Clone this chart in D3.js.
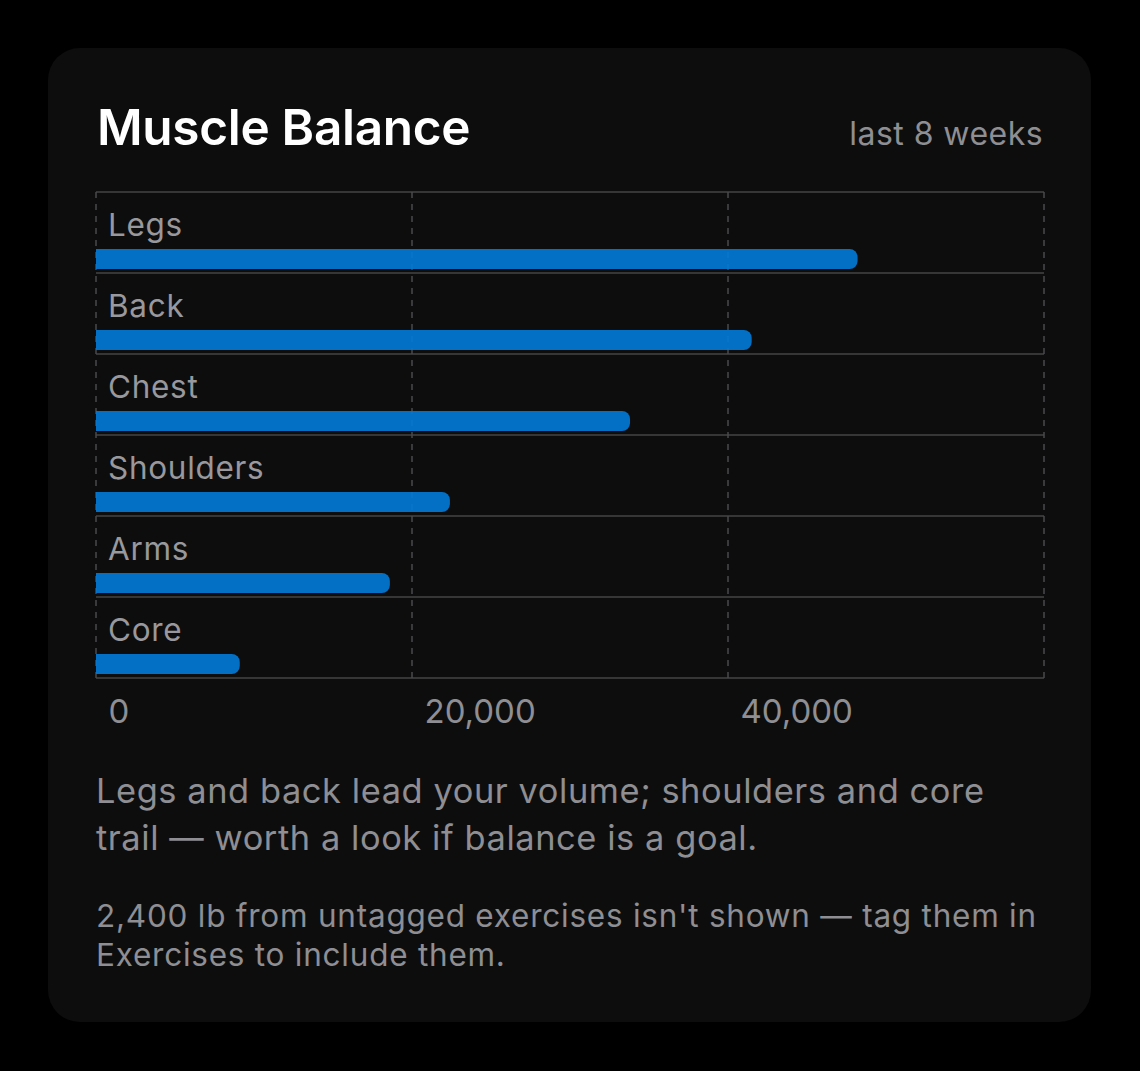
<!DOCTYPE html>
<html>
<head>
<meta charset="utf-8">
<script src="https://cdn.jsdelivr.net/npm/d3@7"></script>
<style>
  html, body { margin: 0; padding: 0; background: #000; }
  svg { display: block; }
  text { font-family: Inter, "Noto Sans", sans-serif; }
</style>
</head>
<body>
<svg id="chart" width="1140" height="1071"></svg>
<script>
// ---- data ----
const categories = ["Legs", "Back", "Chest", "Shoulders", "Arms", "Core"];
const volumes = [48200, 41500, 33800, 22400, 18600, 9100];
const tickValues = [0, 20000, 40000];
const gridValues = [0, 20000, 40000, 60000];
const title = "Muscle Balance";
const subtitle = "last 8 weeks";
const summaryLines = [
  "Legs and back lead your volume; shoulders and core",
  "trail \u2014 worth a look if balance is a goal."
];
const noteLines = [
  "2,400 lb from untagged exercises isn't shown \u2014 tag them in",
  "Exercises to include them."
];

const data = categories.map((c, i) => ({ category: c, value: volumes[i] }));

const svg = d3.select("#chart");
const W = 1140, H = 1071;

svg.append("rect").attr("width", W).attr("height", H).attr("fill", "#000");
svg.append("rect")
  .attr("x", 48).attr("y", 48).attr("width", 1043).attr("height", 974)
  .attr("rx", 32).attr("ry", 32).attr("fill", "#0d0d0d");

svg.append("text").text(title)
  .attr("x", 97).attr("y", 145)
  .attr("fill", "#ffffff").attr("font-size", 49.5).attr("font-weight", 600)
  .attr("letter-spacing", -0.3);

svg.append("text").text(subtitle)
  .attr("x", 1043).attr("y", 145).attr("text-anchor", "end")
  .attr("fill", "#8e8e93").attr("font-size", 32).attr("letter-spacing", 0.45);

const plot = { left: 96, right: 1044, top: 192, bottom: 678 };
const x = d3.scaleLinear().domain([0, 60000]).range([plot.left, plot.right]);
const y = d3.scaleBand().domain(categories).range([plot.top, plot.bottom]).padding(0);

const g = svg.append("g");

// horizontal row separators (solid)
const rowEdges = [plot.top].concat(categories.map(c => y(c) + y.bandwidth()));
g.selectAll("line.row").data(rowEdges).join("line")
  .attr("class", "row")
  .attr("x1", plot.left).attr("x2", plot.right)
  .attr("y1", d => d).attr("y2", d => d)
  .attr("stroke", "#444446").attr("stroke-width", 1.5);

// vertical dashed grid
g.selectAll("line.grid").data(gridValues).join("line")
  .attr("class", "grid")
  .attr("x1", d => x(d)).attr("x2", d => x(d))
  .attr("y1", plot.top).attr("y2", plot.bottom)
  .attr("stroke", "#4a4a4c").attr("stroke-width", 1.5)
  .attr("stroke-dasharray", "6 6");

// category labels
g.selectAll("text.cat").data(data).join("text")
  .attr("class", "cat")
  .attr("x", plot.left + 12)
  .attr("y", d => y(d.category) + 43.5)
  .attr("fill", "#98989d").attr("font-size", 31.5).attr("letter-spacing", 0.7)
  .text(d => d.category);

// bars with rounded right end
const barH = 20, r = 8;
function barPath(d) {
  const x0 = x(0), x1 = x(d.value);
  const y0 = y(d.category) + y.bandwidth() - 24, y1 = y0 + barH;
  return `M${x0},${y0}H${x1 - r}A${r},${r} 0 0 1 ${x1},${y0 + r}V${y1 - r}A${r},${r} 0 0 1 ${x1 - r},${y1}H${x0}Z`;
}
g.selectAll("path.bar").data(data).join("path")
  .attr("class", "bar")
  .attr("d", barPath)
  .attr("fill", "#027bd9").attr("fill-opacity", 0.9);

// x axis
const axis = d3.axisBottom(x).tickValues(tickValues).tickFormat(d3.format(",")).tickSize(0);
const ax = svg.append("g").attr("transform", `translate(0,${plot.bottom})`).call(axis);
ax.select(".domain").remove();
ax.selectAll("text")
  .attr("text-anchor", "start")
  .attr("x", 12).attr("dy", null).attr("y", 44.5)
  .attr("fill", "#8e8e93")
  .attr("font-size", 33)
  .attr("font-family", "Inter, 'Noto Sans', sans-serif");

// summary text
svg.append("g").selectAll("text").data(summaryLines).join("text")
  .attr("x", 96).attr("y", (d, i) => 803 + i * 47)
  .attr("fill", "#8e8e93").attr("font-size", 34.4).attr("letter-spacing", 0.58)
  .text(d => d);

svg.append("g").selectAll("text").data(noteLines).join("text")
  .attr("x", 96).attr("y", (d, i) => 927.3 + i * 38.7)
  .attr("fill", "#8e8e93").attr("font-size", 31.5).attr("letter-spacing", 0.76)
  .text(d => d);
</script>
</body>
</html>
